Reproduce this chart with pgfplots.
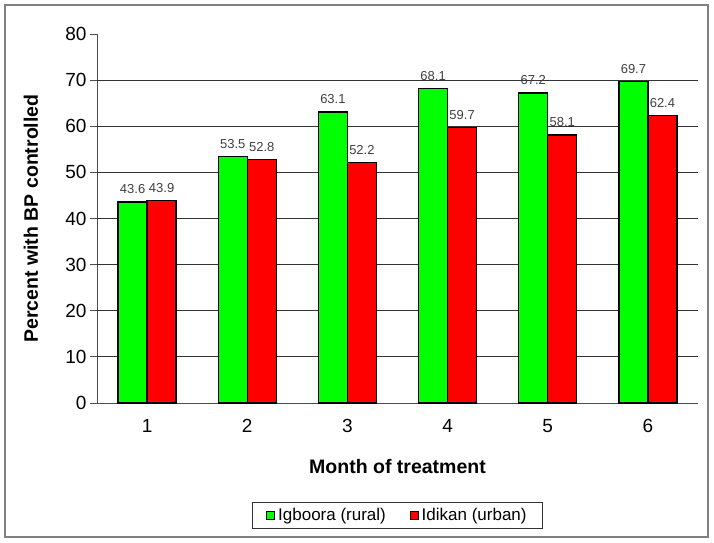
\documentclass[border=0pt]{standalone}
\usepackage{pgfplots}
\pgfplotsset{compat=1.18}
\usepackage{fontspec}
\setmainfont{Liberation Sans}
\definecolor{barGreen}{RGB}{0,255,0}
\definecolor{barRed}{RGB}{255,0,0}
\definecolor{valGray}{RGB}{64,64,64}
\definecolor{frameGray}{RGB}{128,128,128}

\begin{document}
\begin{tikzpicture}
% page size and outer frame (1px = 1pt, plot origin at pixel 97,403)
\path[use as bounding box] (-97pt,-139pt) rectangle (617pt,403pt);
\draw[frameGray, line width=1.5pt] (-92pt,-134pt) rectangle (611pt,398pt);
\begin{axis}[
    at={(0,0)}, anchor=origin,
    scale only axis,
    width=601pt, height=369pt,
    ybar=0pt,
    bar width=29pt,
    xmin=0.5, xmax=6.5,
    ymin=0, ymax=80,
    axis x line=bottom,
    axis y line=left,
    axis line style={-, black!70, line width=0.8pt},
    xtick={1,...,6},
    xticklabels={1,2,3,4,5,6},
    x tick label style={font=\fontsize{19}{22}\selectfont, yshift=-6pt},
    major x tick style={draw=none},
    extra x ticks={0.5,1.5,...,6.5},
    extra x tick labels={},
    extra x tick style={major tick length=7pt, tick style={black!70, line width=0.8pt}},
    ytick={0,10,...,80},
    yticklabels={0,10,20,30,40,50,60,70,80},
    y tick label style={font=\fontsize{19}{22}\selectfont},
    major y tick style={black!70, line width=0.8pt},
    major tick length=7pt,
    tick align=outside,
    extra y ticks={10,20,...,70},
    extra y tick labels={},
    extra y tick style={grid=major, major tick length=0pt},
    grid style={black!80, line width=0.8pt},
    xlabel={\textbf{Month of treatment}},
    xlabel style={font=\fontsize{19.5}{22}\selectfont, at={(axis description cs:0.5,0)}, anchor=center, yshift=-64pt},
    ylabel={\textbf{Percent with BP controlled}},
    ylabel style={font=\fontsize{19.5}{22}\selectfont, at={(axis description cs:0,0.5)}, anchor=center, yshift=66pt},
    nodes near coords,
    nodes near coords style={font=\fontsize{13}{15}\selectfont, text=valGray, anchor=south, yshift=4pt,
        /pgf/number format/.cd, fixed, fixed zerofill, precision=1, assume math mode=true},
    legend columns=2,
    legend style={at={(axis description cs:0.5,0)}, anchor=center, yshift=-112pt,
        draw=black!80, line width=0.6pt, font=\fontsize{17}{20}\selectfont,
        inner xsep=14pt, inner ysep=4pt,
        /tikz/every odd column/.append style={column sep=1pt},
        /tikz/every even column/.append style={column sep=22pt}},
    legend image code/.code={\draw[#1, draw=black, line width=0.8pt] (0pt,-4pt) rectangle (8pt,4pt);},
]
\addplot[fill=barGreen, draw=black, line width=1.2pt] coordinates {
    (1,43.6) (2,53.5) (3,63.1) (4,68.1) (5,67.2) (6,69.7)
};
\addplot[fill=barRed, draw=black, line width=1.2pt] coordinates {
    (1,43.9) (2,52.8) (3,52.2) (4,59.7) (5,58.1) (6,62.4)
};
\legend{Igboora (rural), Idikan (urban)}
\end{axis}
\end{tikzpicture}
\end{document}
